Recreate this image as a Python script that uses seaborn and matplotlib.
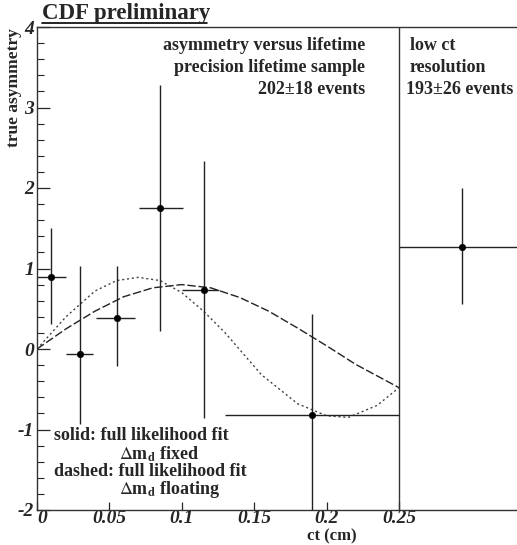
import matplotlib
matplotlib.use("Agg")
import matplotlib.pyplot as plt
from matplotlib.lines import Line2D
from matplotlib.ticker import MultipleLocator
import numpy as np
import pandas as pd
import seaborn as sns

# ---- data ----
ct = [0.0097, 0.0297, 0.055, 0.085, 0.115, 0.19, 0.2935]
asym = [0.89, -0.06, 0.385, 1.75, 0.73, -0.82, 1.27]
ct_lo = [0.0, 0.02, 0.041, 0.0704, 0.10, 0.13, 0.25]
ct_hi = [0.02, 0.039, 0.068, 0.1008, 0.126, 0.25, 0.36]
asym_lo = [0.31, -0.93, -0.21, 0.22, -0.86, -2.3, 0.56]
asym_hi = [1.50, 1.03, 1.03, 3.28, 2.33, 0.43, 2.00]

solid_ct = [0, 0.02, 0.04, 0.06, 0.08, 0.10, 0.12, 0.14, 0.16, 0.18, 0.20, 0.22, 0.25]
solid_a = [0, 0.25, 0.47, 0.65, 0.76, 0.80, 0.76, 0.64, 0.47, 0.26, 0.04, -0.19, -0.48]
dashed_ct = [0, 0.02, 0.04, 0.055, 0.07, 0.085, 0.10, 0.115, 0.13, 0.155, 0.18, 0.20, 0.215, 0.235, 0.25]
dashed_a = [0, 0.40, 0.72, 0.85, 0.89, 0.85, 0.70, 0.47, 0.20, -0.32, -0.68, -0.83, -0.85, -0.70, -0.48]

x_ticks = [0, 0.05, 0.1, 0.15, 0.2, 0.25]
x_tick_labels = ["0", "0.05", "0.1", "0.15", "0.2", "0.25"]
y_ticks = [-2, -1, 0, 1, 2, 3, 4]
y_tick_labels = ["-2", "-1", "0", "1", "2", "3", "4"]

sns.set_theme(style="ticks")
plt.rcParams["font.family"] = ["Liberation Serif", "DejaVu Serif"]
plt.rcParams["mathtext.fontset"] = "stix"

W, H = 517, 545
fig = plt.figure(figsize=(W / 100, H / 100), dpi=100)
ax = fig.add_axes([37 / W, 35 / H, (W - 37) / W, (510 - 27) / H])

ax.set_xlim(0, 0.3315)
ax.set_ylim(-2, 4)

# divider between panels
ax.axvline(0.25, color="#333333", lw=1.0)

# fit curves
df_s = pd.DataFrame({"ct": solid_ct, "a": solid_a})
df_d = pd.DataFrame({"ct": dashed_ct, "a": dashed_a})
sns.lineplot(data=df_s, x="ct", y="a", ax=ax, color="#222222", lw=1.0,
             linestyle=(0, (6, 2)), estimator=None, sort=True)
sns.lineplot(data=df_d, x="ct", y="a", ax=ax, color="#444444", lw=1.0,
             linestyle=(0, (1.5, 2)), estimator=None, sort=True)

# data points with error bars
ct_a = np.array(ct); asym_a = np.array(asym)
xerr = [ct_a - np.array(ct_lo), np.array(ct_hi) - ct_a]
yerr = [asym_a - np.array(asym_lo), np.array(asym_hi) - asym_a]
ax.errorbar(ct_a, asym_a, xerr=xerr, yerr=yerr, fmt="none",
            ecolor="#222222", elinewidth=1.0, capsize=0)
sns.scatterplot(x=ct, y=asym, ax=ax, color="black", s=22, edgecolor="black",
                zorder=5, legend=False)

# axes styling
for side in ["left", "top", "bottom"]:
    ax.spines[side].set_linewidth(1.0)
    ax.spines[side].set_color("#333333")
ax.spines["right"].set_visible(False)
ax.set_xticks(x_ticks)
ax.set_xticklabels(x_tick_labels)
ax.set_yticks(y_ticks)
ax.set_yticklabels(y_tick_labels)
ax.yaxis.set_minor_locator(MultipleLocator(0.2))
ax.tick_params(axis="both", which="both", direction="in", top=False, right=False)
ax.tick_params(axis="y", which="major", length=9, width=0.9, pad=2)
ax.tick_params(axis="y", which="minor", length=5, width=0.8)
ax.tick_params(axis="x", which="major", length=6, width=0.9, pad=0)
for lab in ax.get_xticklabels() + ax.get_yticklabels():
    lab.set_fontweight("bold")
    lab.set_fontstyle("italic")
    lab.set_fontsize(14)
ax.get_xticklabels()[0].set_horizontalalignment("left")
ax.set_xlabel("")
ax.set_ylabel("")

def px(x, y):
    return x / W, 1 - y / H

# titles and labels
tx, ty = px(42, 13)
fig.text(tx, ty, "CDF preliminary", fontsize=16.5, fontweight="bold", va="center", ha="left")
fig.add_artist(Line2D([42 / W, 207 / W], [1 - 23 / H, 1 - 23 / H], color="black", lw=1.2))
lx, ly = px(14, 28)
fig.text(lx, ly, "true asymmetry", fontsize=12.5, fontweight="bold", rotation=90,
         va="top", ha="center")
cx, cy = px(332, 544)
fig.text(cx, cy, "ct (cm)", fontsize=12, fontweight="bold", va="bottom", ha="center")

fs = 13
for s, yy in [("asymmetry versus lifetime", 45), ("precision lifetime sample", 67),
              ("202±18 events", 89)]:
    fig.text(*px(365, yy), s, fontsize=fs, fontweight="bold", ha="right", va="center")
for s, yy, xx in [("low ct", 45, 410), ("resolution", 67, 410), ("193±26 events", 89, 406)]:
    fig.text(*px(xx, yy), s, fontsize=fs, fontweight="bold", ha="left", va="center")

fig.text(*px(54, 436), "solid: full likelihood fit", fontsize=fs, fontweight="bold",
         ha="left", va="center")
fig.text(*px(119, 454), r"$\Delta$m$_\mathbf{d}$ fixed", fontsize=fs, fontweight="bold",
         ha="left", va="center")
fig.text(*px(54, 472), "dashed: full likelihood fit", fontsize=fs, fontweight="bold",
         ha="left", va="center")
fig.text(*px(119, 490), r"$\Delta$m$_\mathbf{d}$ floating", fontsize=fs, fontweight="bold",
         ha="left", va="center")

fig.savefig("out.png", dpi=100)
